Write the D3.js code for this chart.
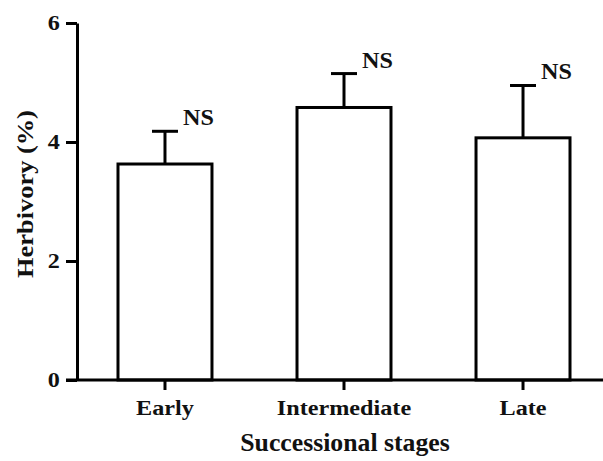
<!DOCTYPE html>
<html>
<head>
<meta charset="utf-8">
<script src="https://cdn.jsdelivr.net/npm/d3@7"></script>
<style>
  body { margin: 0; background: #fff; }
  svg text { font-family: "Liberation Serif", "Times New Roman", serif; font-weight: bold; fill: #111; }
</style>
</head>
<body>
<div id="chart"></div>
<script>
// data
const stages = ['Early', 'Intermediate', 'Late'];
const herbivory = [3.63, 4.58, 4.07];
const errors = [0.55, 0.57, 0.88];
const signif = ['NS', 'NS', 'NS'];
const yTicks = [0, 2, 4, 6];

const width = 603, height = 461;
const margin = { top: 23, right: -8, bottom: 81, left: 77 };

const svg = d3.select('#chart').append('svg')
  .attr('width', width).attr('height', height);

const x = d3.scaleBand()
  .domain(stages)
  .range([margin.left, width - margin.right])
  .paddingInner(0.475)
  .paddingOuter(0.229);

const y = d3.scaleLinear()
  .domain([0, 6])
  .range([height - margin.bottom, margin.top]);

const lw = 3;

// bars
svg.append('g')
  .selectAll('rect')
  .data(stages)
  .join('rect')
  .attr('x', d => x(d))
  .attr('y', (d, i) => y(herbivory[i]))
  .attr('width', x.bandwidth())
  .attr('height', (d, i) => y(0) - y(herbivory[i]))
  .attr('fill', '#fff')
  .attr('stroke', '#000')
  .attr('stroke-width', lw);

// error bars (upper only)
const eb = svg.append('g').attr('stroke', '#000').attr('stroke-width', lw);
stages.forEach((s, i) => {
  const cx = x(s) + x.bandwidth() / 2;
  const top = y(herbivory[i] + errors[i]);
  eb.append('line')
    .attr('x1', cx).attr('x2', cx)
    .attr('y1', y(herbivory[i])).attr('y2', top);
  eb.append('line')
    .attr('x1', cx - 13).attr('x2', cx + 13)
    .attr('y1', top).attr('y2', top);
});

// NS labels
svg.append('g')
  .selectAll('text')
  .data(stages)
  .join('text')
  .attr('transform', (d, i) =>
    `translate(${x(d) + x.bandwidth() / 2 + 18},${y(herbivory[i] + errors[i]) - 6}) scale(1.05,1)`)
  .attr('font-size', 23)
  .text((d, i) => signif[i]);

// y axis
const yAxis = svg.append('g')
  .attr('transform', `translate(${margin.left},0)`)
  .call(d3.axisLeft(y).tickValues(yTicks).tickFormat(d3.format('d'))
    .tickSize(11).tickPadding(4).tickSizeOuter(0));
yAxis.select('.domain').attr('stroke-width', lw).attr('stroke', '#000');
yAxis.selectAll('.tick line').attr('stroke-width', lw).attr('stroke', '#000');
yAxis.selectAll('.tick text').attr('font-size', 21).attr('fill', '#111')
  .attr('transform', 'scale(1.15,1)')
  .style('font-family', '"Liberation Serif", serif').style('font-weight', 'bold');

// x axis
const xAxis = svg.append('g')
  .attr('transform', `translate(0,${y(0)})`)
  .call(d3.axisBottom(x).tickSize(10).tickPadding(9).tickSizeOuter(0));
xAxis.select('.domain').attr('stroke-width', lw).attr('stroke', '#000')
  .attr('d', `M${margin.left - 11},0H${width + 10}`);
xAxis.selectAll('.tick line').attr('stroke-width', lw).attr('stroke', '#000');
xAxis.selectAll('.tick text').attr('font-size', 22).attr('fill', '#111')
  .attr('transform', 'scale(1.1,1)')
  .style('font-family', '"Liberation Serif", serif').style('font-weight', 'bold');

// axis titles
svg.append('text')
  .attr('transform', 'translate(345,451) scale(1.03,1)')
  .attr('text-anchor', 'middle')
  .attr('font-size', 25)
  .text('Successional stages');

svg.append('text')
  .attr('transform', 'translate(33,194) rotate(-90) scale(1.1,1)')
  .attr('text-anchor', 'middle')
  .attr('font-size', 24)
  .text('Herbivory (%)');
</script>
</body>
</html>
